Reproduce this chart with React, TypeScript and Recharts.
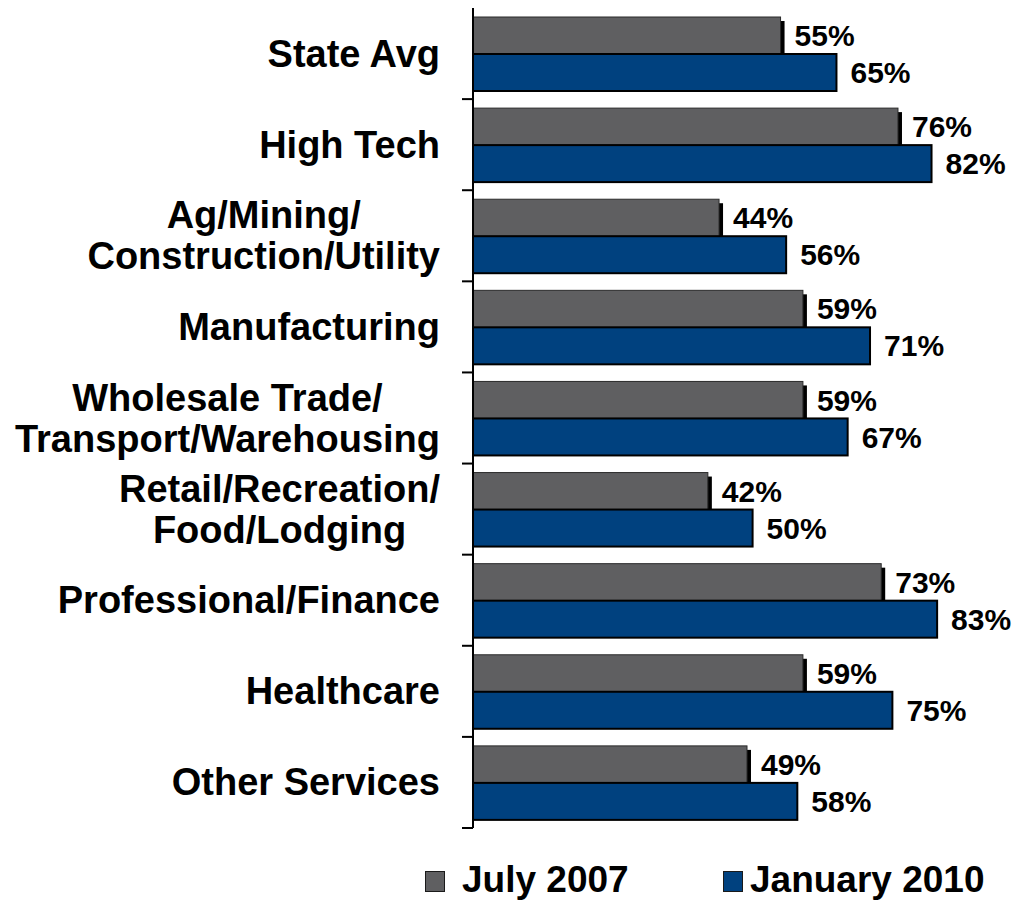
import { BarChart, Bar, XAxis, YAxis, LabelList, Legend } from "recharts";

const categories = [
  "State Avg",
  "High Tech",
  "Ag/Mining/\nConstruction/Utility",
  "Manufacturing",
  "Wholesale Trade/\nTransport/Warehousing",
  "Retail/Recreation/\nFood/Lodging",
  "Professional/Finance",
  "Healthcare",
  "Other Services",
];
const july2007 = [55, 76, 44, 59, 59, 42, 73, 59, 49];
const jan2010 = [65, 82, 56, 71, 67, 50, 83, 75, 58];
const seriesNames = ["July 2007", "January 2010"];

const GRAY = "#5f5f61";
const BLUE = "#00417f";
const FONT = "'Liberation Sans', Arial, sans-serif";
const CAT_FS = 38;

const W = 1026;
const H = 900;
const MARGIN = { top: 8, right: 5, bottom: 28, left: 0 };
const LEGEND_H = 44;
const AXIS_W = 473;
const BAND = (H - MARGIN.top - MARGIN.bottom - LEGEND_H) / categories.length;

const data = categories.map((name, i) => ({ name, july: july2007[i], jan: jan2010[i] }));

let ctx: CanvasRenderingContext2D | null = null;
function textWidth(s: string, font: string) {
  if (!ctx) ctx = document.createElement("canvas").getContext("2d");
  if (!ctx) return s.length * 19;
  ctx.font = font;
  return ctx.measureText(s).width;
}

function CatTick(props: any) {
  const { y, payload } = props;
  const lines: string[] = String(payload.value).split("\n");
  const right = AXIS_W - 33;
  const widest = Math.max(...lines.map((l) => textWidth(l, `bold ${CAT_FS}px "Liberation Sans"`)));
  const cx = lines.length > 1 ? right - widest / 2 : right;
  const anchor = lines.length > 1 ? "middle" : "end";
  const lh = 41;
  return (
    <g>
      <line x1={AXIS_W - 11} x2={AXIS_W} y1={y + BAND / 2} y2={y + BAND / 2} stroke="#000" strokeWidth={2} />
      {lines.map((l, i) => (
        <text
          key={i}
          x={cx}
          y={y + (i - (lines.length - 1) / 2) * lh + 13}
          textAnchor={anchor}
          fontFamily={FONT}
          fontWeight="bold"
          fontSize={CAT_FS}
          fill="#000"
        >
          {l}
        </text>
      ))}
    </g>
  );
}

function GrayBar(props: any) {
  const { x, y, width, height } = props;
  return (
    <g>
      <rect x={x + 4} y={y + 4} width={width} height={height - 4} fill="#000" />
      <rect x={x} y={y} width={width} height={height} fill={GRAY} stroke="#2b2b2b" strokeWidth={1} />
    </g>
  );
}

function BlueBar(props: any) {
  const { x, y, width, height } = props;
  return <rect x={x} y={y} width={width} height={height} fill={BLUE} stroke="#000" strokeWidth={2} />;
}

function LegendBox() {
  const items = [
    { name: seriesNames[0], color: GRAY, sq: 425, tx: 462 },
    { name: seriesNames[1], color: BLUE, sq: 723, tx: 750 },
  ];
  return (
    <div style={{ position: "relative", width: W, height: LEGEND_H }}>
      {items.map((it) => (
        <div key={it.name}>
          <div
            style={{
              position: "absolute",
              left: it.sq,
              top: 15,
              width: 18,
              height: 19,
              background: it.color,
              border: "1px solid #1a1a1a",
            }}
          />
          <div
            style={{
              position: "absolute",
              left: it.tx,
              top: 6,
              fontFamily: FONT,
              fontWeight: "bold",
              fontSize: 37,
              lineHeight: "36px",
              color: "#000",
              whiteSpace: "nowrap",
            }}
          >
            {it.name}
          </div>
        </div>
      ))}
    </div>
  );
}

const labelStyle = { fontFamily: FONT, fontWeight: "bold", fontSize: 30, fill: "#000" } as const;

export default function App() {
  return (
    <div style={{ position: "absolute", left: 0, top: 0, width: W, height: H, background: "#fff" }}>
      <BarChart width={W} height={H} data={data} layout="vertical" margin={MARGIN} barGap={0} barSize={37}>
        <XAxis type="number" domain={[0, 98]} hide />
        <YAxis
          type="category"
          dataKey="name"
          width={AXIS_W}
          interval={0}
          axisLine={{ stroke: "#000", strokeWidth: 2 }}
          tickLine={false}
          tick={<CatTick />}
        />
        <Legend
          verticalAlign="bottom"
          content={<LegendBox />}
          wrapperStyle={{ left: 0, bottom: 0, width: W, height: LEGEND_H }}
        />
        <Bar dataKey="july" name={seriesNames[0]} fill={GRAY} shape={<GrayBar />} isAnimationActive={false}>
          <LabelList dataKey="july" position="right" offset={14} formatter={(v: any) => `${v}%`} style={labelStyle} />
        </Bar>
        <Bar dataKey="jan" name={seriesNames[1]} fill={BLUE} shape={<BlueBar />} isAnimationActive={false}>
          <LabelList dataKey="jan" position="right" offset={14} formatter={(v: any) => `${v}%`} style={labelStyle} />
        </Bar>
      </BarChart>
    </div>
  );
}
